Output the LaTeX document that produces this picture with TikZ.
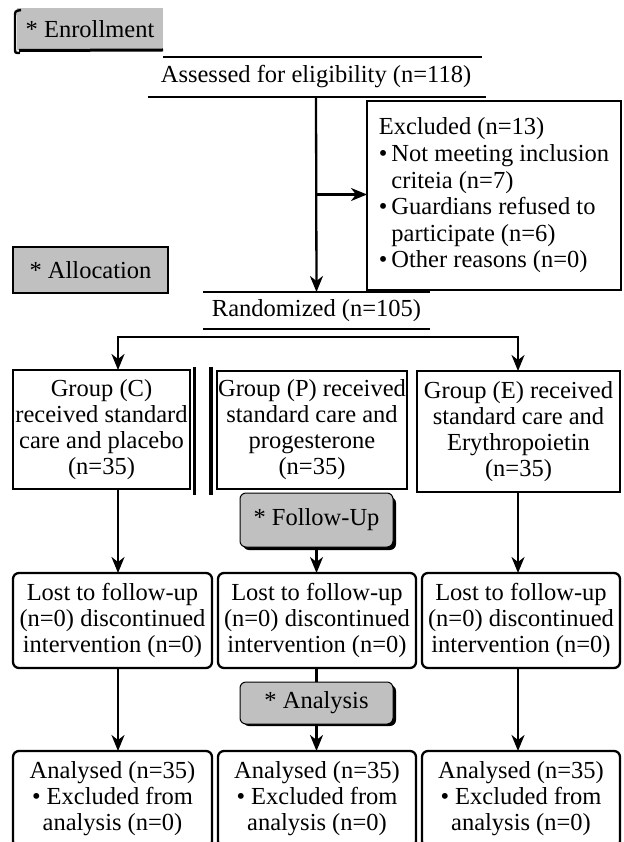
\documentclass[tikz,border=0pt]{standalone}
\usepackage{fontspec}
\setmainfont{Liberation Serif}
\usetikzlibrary{arrows.meta,calc}
\definecolor{lbl}{RGB}{192,192,192}
\begin{document}
\begin{tikzpicture}[x=1pt,y=-1pt,
  every node/.style={font=\fontsize{24.5}{26}\selectfont, inner sep=0pt, outer sep=0pt},
  box/.style={draw, line width=2.3pt, align=center},
  rbox/.style={box, rounded corners=6pt},
  tag/.style={fill=lbl, align=center},
  arr/.style={line width=2.3pt, -{Stealth[length=16pt,width=13pt,inset=5pt]}},
  ln/.style={line width=2.3pt},
  bar/.style={line width=3.8pt},
]
\useasboundingbox (0,0) rectangle (623,842);
\clip (0,0) rectangle (623,842);

% column guides
\coordinate (xC) at (118,0);
\coordinate (xP) at (316,0);
\coordinate (xE) at (518,0);

% Enrollment tag
\node[tag, minimum width=146pt, minimum height=42pt] (enr) at (90,29) {* Enrollment};
\draw[line width=2.4pt] (21,10) .. controls (15,11) .. (15,17) -- (15,48) .. controls (15,53) .. (20,53);
\draw[line width=3pt] (19,50.5) -- (enr.south east);

% Assessed
\node[minimum height=40pt] (assess) at (316,77) {Assessed for eligibility (n=118)};
\draw[ln] (163,57) -- (482,57);
\draw[ln] (148,97) -- (486,97);

% Excluded
\node[box, minimum width=254pt, minimum height=189pt, align=left,
      font=\fontsize{24.5}{26.6}\selectfont] (excl) at (494,195.5)
 {Excluded (n=13)\\
  \textbullet\,Not meeting inclusion\\
  \hphantom{\textbullet\,}criteia (n=7)\\
  \textbullet\,Guardians refused to\\
  \hphantom{\textbullet\,}participate (n=6)\\
  \textbullet\,Other reasons (n=0)};

% Allocation tag
\node[tag, draw, line width=2.8pt, minimum width=155pt, minimum height=46pt] (alloc) at (90.5,270) {* Allocation};

% Randomized
\node[minimum width=227pt, minimum height=37pt] (rand) at (316.5,310.5) {Randomized (n=105)};
\draw[ln] (rand.north west) -- (rand.north east);
\draw[ln] (rand.south west) -- (rand.south east);

% Groups
\node[box, minimum width=177pt, minimum height=119pt] (gC) at (101.5,429.5)
 {Group (C)\\received standard\\care and placebo\\(n=35)};
\node[box, minimum width=190pt, minimum height=118pt] (gP) at (312,430)
 {Group (P) received\\standard care and\\progesterone\\(n=35)};
\node[box, minimum width=203pt, minimum height=121pt] (gE) at (518.5,431.5)
 {Group (E) received\\standard care and\\Erythropoietin\\(n=35)};
\draw[bar] (194.5,367) -- (194.5,495);
\draw[bar] (211,367) -- (211,495);

% Follow-Up tag
\fill[rounded corners=6pt] (243,497) rectangle (396,550);
\node[tag, draw, line width=1pt, rounded corners=6pt, minimum width=153pt, minimum height=54pt] (fu) at (316.5,520) {* Follow-Up};

% Lost boxes
\node[rbox, minimum width=199pt, minimum height=95pt] (lC) at (112.5,620.5)
 {Lost to follow-up\\(n=0) discontinued\\intervention (n=0)};
\node[rbox, minimum width=198pt, minimum height=95pt] (lP) at (317,620.5)
 {Lost to follow-up\\(n=0) discontinued\\intervention (n=0)};
\node[rbox, minimum width=198pt, minimum height=95pt] (lE) at (521,620.5)
 {Lost to follow-up\\(n=0) discontinued\\intervention (n=0)};

% Analysis tag
\fill[rounded corners=6pt] (243,685) rectangle (396,726);
\node[tag, draw, line width=1pt, rounded corners=6pt, minimum width=153pt, minimum height=42pt] (an) at (316.5,703) {* Analysis};

% Analysed boxes
\node[rbox, minimum width=199pt, minimum height=96pt] (aC) at (112.5,799)
 {Analysed (n=35)\\\textbullet\ Excluded from\\analysis (n=0)};
\node[rbox, minimum width=198pt, minimum height=96pt] (aP) at (317,799)
 {Analysed (n=35)\\\textbullet\ Excluded from\\analysis (n=0)};
\node[rbox, minimum width=198pt, minimum height=96pt] (aE) at (521,799)
 {Analysed (n=35)\\\textbullet\ Excluded from\\analysis (n=0)};

% Connectors
\draw[arr] (assess.south) -- (rand.north);
\coordinate (br) at ($(assess.south)!0.5!(rand.north)$);
\draw[arr] (br) -- (br -| excl.west);

\coordinate (split) at ($(rand.south)+(0,8)$);
\draw[arr] (split) -- (split -| xC) -- (xC |- gC.north);
\draw[arr] (split) -- (split -| xE) -- (xE |- gE.north);

\draw[arr] (xC |- gC.south) -- (xC |- lC.north);
\draw[arr] (fu.south) -- (fu.south |- lP.north);
\draw[arr] (xE |- gE.south) -- (xE |- lE.north);

\draw[ln] (an.north |- lP.south) -- (an.north);
\draw[arr] (xC |- lC.south) -- (xC |- aC.north);
\draw[arr] (an.south) -- (an.south |- aP.north);
\draw[arr] (xE |- lE.south) -- (xE |- aE.north);
\end{tikzpicture}
\end{document}
